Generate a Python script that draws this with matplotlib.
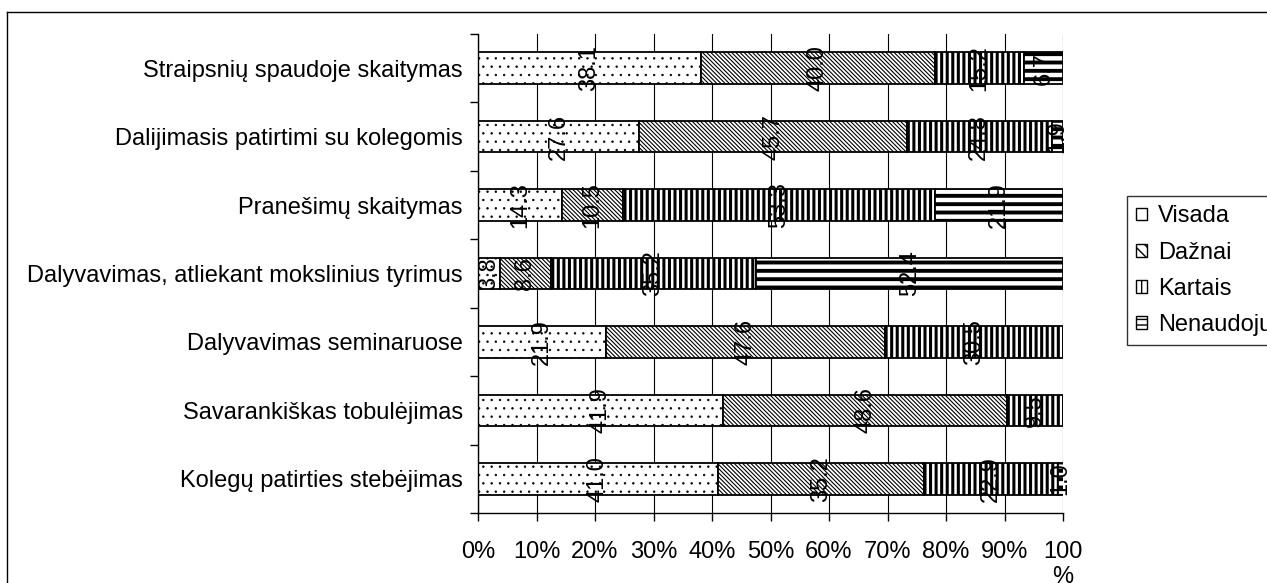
import matplotlib
matplotlib.use("Agg")
import matplotlib.pyplot as plt
from matplotlib.lines import Line2D
from matplotlib.patches import Patch
import numpy as np

plt.rcParams['font.family'] = ['Liberation Sans', 'DejaVu Sans']

categories = [
    "Straipsnių spaudoje skaitymas",
    "Dalijimasis patirtimi su kolegomis",
    "Pranešimų skaitymas",
    "Dalyvavimas, atliekant mokslinius tyrimus",
    "Dalyvavimas seminaruose",
    "Savarankiškas tobulėjimas",
    "Kolegų patirties stebėjimas",
]
series_names = ["Visada", "Dažnai", "Kartais", "Nenaudoju"]
visada = [38.1, 27.6, 14.3, 3.8, 21.9, 41.9, 41.0]
daznai = [40.0, 45.7, 10.5, 8.6, 47.6, 48.6, 35.2]
kartais = [15.2, 24.8, 53.3, 35.2, 30.5, 9.5, 22.9]
nenaudoju = [6.7, 1.9, 21.9, 52.4, 0.0, 0.0, 1.0]
xtick_labels = ["0%", "10%", "20%", "30%", "40%", "50%", "60%", "70%", "80%", "90%", "100\n%"]

series = [visada, daznai, kartais, nenaudoju]
hatches = ["..", "\\" * 8, "|||", "--"]
hatch_lws = [0.5, 0.8, 2.2, 2.8]
FS = 17

W, H = 1267, 583
fig = plt.figure(figsize=(W / 100, H / 100), dpi=100)
ax = fig.add_axes([478 / W, 1 - 513 / H, (1063 - 478) / W, (513 - 34) / H])

y = np.arange(len(categories))
left = np.zeros(len(categories))
for vals, name, h, hl in zip(series, series_names, hatches, hatch_lws):
    plt.rcParams['hatch.linewidth'] = hl
    bars = ax.barh(y, vals, left=left, height=0.46, color="white",
                   edgecolor="black", linewidth=1.3, hatch=h, label=name, zorder=2)
    for p in bars.patches:
        if hasattr(p, "set_hatch_linewidth"):
            p.set_hatch_linewidth(hl)
    for yi, (l, v) in enumerate(zip(left, vals)):
        if v > 0:
            ax.text(l + v / 2, yi, f"{v:.1f}", rotation=90, ha="center", va="center",
                    fontsize=FS, color="black", zorder=3)
    left = left + np.array(vals)

ax.set_xlim(0, 100)
ax.set_ylim(len(categories) - 0.5, -0.5)
ax.set_xticks(np.arange(0, 101, 10))
ax.set_xticklabels(xtick_labels, fontsize=FS)
ax.set_yticks(y)
ax.set_yticklabels(categories, fontsize=FS)
ax.set_yticks(np.arange(-0.5, len(categories), 1), minor=True)
ax.tick_params(axis="y", which="major", length=0, pad=11)
ax.tick_params(axis="y", which="minor", length=6, width=1, direction="out")
ax.tick_params(axis="x", which="major", length=6, width=1, direction="out", pad=14)
ax.xaxis.grid(True, color="black", linewidth=0.8, zorder=0)
ax.set_axisbelow(True)
for s in ["top", "right"]:
    ax.spines[s].set_visible(False)
ax.spines["left"].set_linewidth(1)
ax.spines["bottom"].set_linewidth(1)

plt.rcParams['hatch.linewidth'] = 1.0
handles = [Patch(facecolor="white", edgecolor="black", hatch=h, label=n)
           for h, n in zip(["", "\\\\\\", "|", "---"], series_names)]
leg = fig.legend(handles=handles, loc="upper left", bbox_to_anchor=(1127 / W, 1 - 196 / H),
                 fontsize=FS, frameon=True, fancybox=False, edgecolor="black",
                 handlelength=0.45, handleheight=0.45, handletextpad=0.45,
                 labelspacing=0.6, borderpad=0.4, borderaxespad=0)
leg.get_frame().set_linewidth(1)

x0 = 7 / W
yt = 1 - 12 / H
fig.add_artist(Line2D([x0, x0], [0, yt], color="black", linewidth=1, transform=fig.transFigure))
fig.add_artist(Line2D([x0, 1], [yt, yt], color="black", linewidth=1, transform=fig.transFigure))

fig.savefig("out.png", dpi=100)
